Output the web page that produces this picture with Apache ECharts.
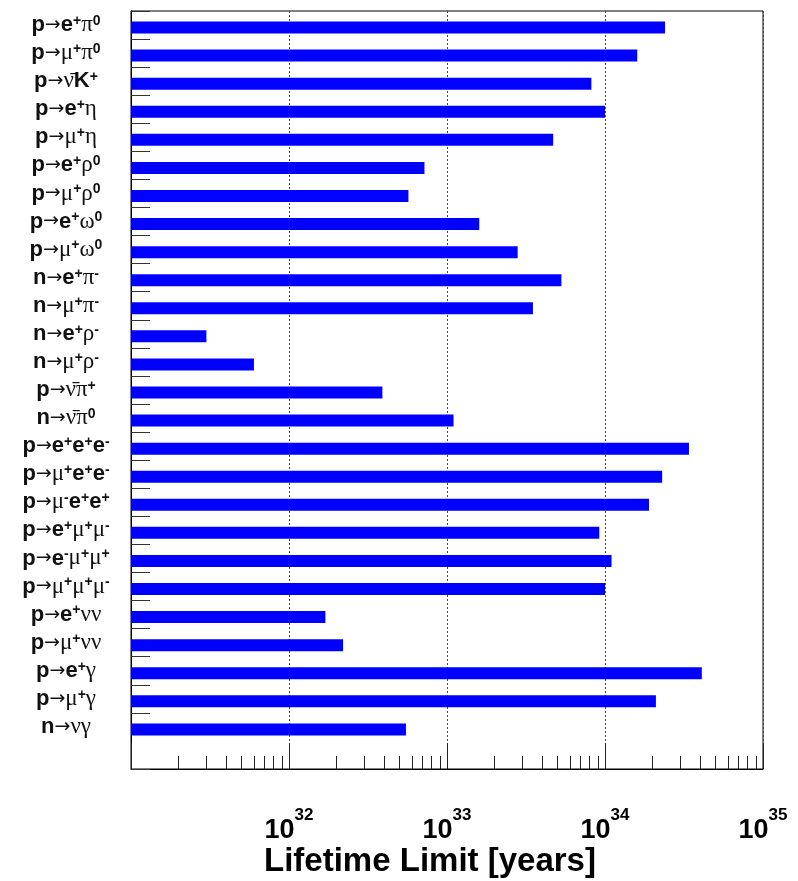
<!DOCTYPE html>
<html>
<head>
<meta charset="utf-8">
<script src="https://cdn.jsdelivr.net/npm/echarts@6/dist/echarts.min.js"></script>
<style>
  html, body { margin: 0; padding: 0; background: #fff; }
  #chart { width: 798px; height: 881px; }
</style>
</head>
<body>
<div id="chart"></div>
<script>
// Decay channels, top to bottom
const decays = [
  'p→e⁺π⁰', 'p→μ⁺π⁰', 'p→ν̄K⁺', 'p→e⁺η', 'p→μ⁺η', 'p→e⁺ρ⁰', 'p→μ⁺ρ⁰',
  'p→e⁺ω⁰', 'p→μ⁺ω⁰', 'n→e⁺π⁻', 'n→μ⁺π⁻', 'n→e⁺ρ⁻', 'n→μ⁺ρ⁻',
  'p→ν̄π⁺', 'n→ν̄π⁰', 'p→e⁺e⁺e⁻', 'p→μ⁺e⁺e⁻', 'p→μ⁻e⁺e⁺', 'p→e⁺μ⁺μ⁻',
  'p→e⁻μ⁺μ⁺', 'p→μ⁺μ⁺μ⁻', 'p→e⁺νν', 'p→μ⁺νν', 'p→e⁺γ', 'p→μ⁺γ', 'n→νγ'
];

// Partial lifetime limits in years
const lifetimeLimits = [
  2.4e34, 1.6e34, 8.2e33, 1.0e34, 4.7e33, 7.2e32, 5.7e32,
  1.6e33, 2.8e33, 5.3e33, 3.5e33, 3.0e31, 6.0e31,
  3.9e32, 1.1e33, 3.4e34, 2.3e34, 1.9e34, 9.2e33,
  1.1e34, 1.0e34, 1.7e32, 2.2e32, 4.1e34, 2.1e34, 5.5e32
];

// Lifetime axis range and tick positions
const lifetimeMin = 1e31;
const lifetimeMax = 1e35;
const minorTicks = [
  2e31, 3e31, 4e31, 5e31, 6e31, 7e31, 8e31, 9e31,
  2e32, 3e32, 4e32, 5e32, 6e32, 7e32, 8e32, 9e32,
  2e33, 3e33, 4e33, 5e33, 6e33, 7e33, 8e33, 9e33,
  2e34, 3e34, 4e34, 5e34, 6e34, 7e34, 8e34, 9e34
];

// Channel labels: Latin letters bold sans, Greek symbols serif, charges raised
const SUPERSCRIPTS = { '⁺': '+', '⁻': '-', '⁰': '0' };
function channelLabel(name) {
  if (!name) return '';
  let out = '', cur = null, buf = '';
  const flush = () => { if (buf) out += '{' + cur + '|' + buf + '}'; buf = ''; };
  for (const ch of name) {
    let style, c = ch;
    if (SUPERSCRIPTS[ch]) { style = 'sup'; c = SUPERSCRIPTS[ch]; }
    else if (ch === '→') style = 'arr';
    else if (/[A-Za-z]/.test(ch)) style = 'lat';
    else style = 'grk';
    if (style !== cur) { flush(); cur = style; }
    buf += c;
  }
  flush();
  return out;
}

const chart = echarts.init(document.getElementById('chart'));
chart.setOption({
  backgroundColor: '#ffffff',
  animation: false,
  title: {
    text: 'Lifetime Limit [years]',
    left: 425,
    top: 840,
    textAlign: 'center',
    textStyle: { fontFamily: 'Liberation Sans', fontWeight: 'bold', fontSize: 33, color: '#000' }
  },
  grid: {
    left: 131, right: 35, top: 11, bottom: 112,
    containLabel: false,
    outerBoundsMode: 'none',
    show: true, borderColor: '#000', borderWidth: 1, backgroundColor: 'transparent'
  },
  xAxis: [
    {
      type: 'log', logBase: 10, min: lifetimeMin, max: lifetimeMax, position: 'bottom',
      axisLine: { show: true, lineStyle: { color: '#000', width: 1 } },
      axisTick: { show: true, inside: true, length: 26, lineStyle: { color: '#222', width: 1 } },
      splitLine: { show: true, lineStyle: { color: '#444', width: 1, type: [2, 2] } },
      axisLabel: {
        margin: 38,
        formatter: (v) => v <= lifetimeMin * 1.001 ? '' : '{b|10}{e|' + Math.round(Math.log10(v)) + '}',
        rich: {
          b: { fontFamily: 'Liberation Sans', fontWeight: 'bold', fontSize: 27, lineHeight: 48, color: '#000' },
          e: { fontFamily: 'Liberation Sans', fontWeight: 'bold', fontSize: 17, lineHeight: 17, verticalAlign: 'top', color: '#000' }
        }
      }
    },
    {
      type: 'log', logBase: 10, min: lifetimeMin, max: lifetimeMax, position: 'bottom',
      axisLine: { show: false },
      axisLabel: { show: false },
      splitLine: { show: false },
      axisTick: { show: true, inside: true, length: 13, customValues: minorTicks, lineStyle: { color: '#222', width: 1 } }
    }
  ],
  yAxis: {
    type: 'category',
    inverse: true,
    data: decays.concat(['']),
    axisLine: { show: true, lineStyle: { color: '#000', width: 1 } },
    axisTick: {
      show: true, inside: true, length: 19,
      interval: (index) => index < decays.length,
      lineStyle: { color: '#333', width: 1 }
    },
    splitLine: { show: false },
    axisLabel: {
      interval: 0,
      align: 'center',
      margin: 65,
      formatter: (v) => channelLabel(v),
      rich: {
        lat: { fontFamily: 'Liberation Sans', fontWeight: 'bold', fontSize: 22, lineHeight: 22, color: '#111' },
        arr: { fontFamily: 'DejaVu Sans', fontSize: 19, lineHeight: 22, color: '#111' },
        grk: { fontFamily: 'Liberation Serif', fontSize: 23, lineHeight: 22, color: '#111' },
        sup: { fontFamily: 'Liberation Sans', fontWeight: 'bold', fontSize: 14, lineHeight: 14, verticalAlign: 'top', color: '#111' }
      }
    }
  },
  series: [
    {
      // empty slot that nudges the bars slightly below the band centre
      name: 'spacer', type: 'bar', barWidth: 5, barGap: 0, data: [],
      itemStyle: { color: 'transparent' }, silent: true
    },
    {
      name: 'Lifetime limit', type: 'bar', barWidth: 12, barGap: 0,
      data: lifetimeLimits,
      itemStyle: { color: '#0000ff' },
      silent: true
    }
  ]
});
</script>
</body>
</html>
